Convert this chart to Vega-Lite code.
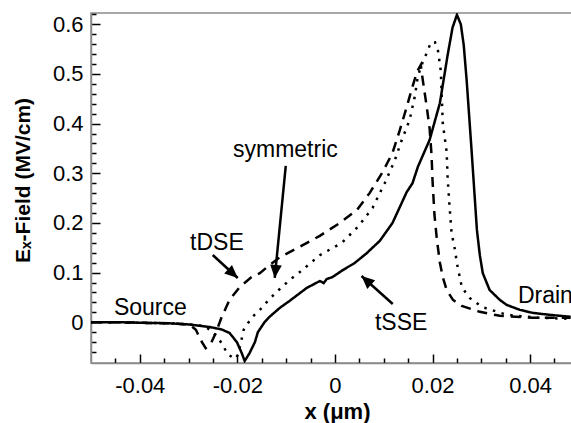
{
  "$schema": "https://vega.github.io/schema/vega-lite/v6.json",
  "width": 481,
  "height": 350,
  "autosize": "none",
  "padding": {"left": 91, "top": 13, "right": 0, "bottom": 60},
  "background": "white",
  "config": {
    "view": {"stroke": "#8a8a8a", "strokeWidth": 1.5},
    "font": "Liberation Sans",
    "axis": {
      "domainColor": "#8a8a8a",
      "domainWidth": 1.5,
      "ticks": true,
      "tickColor": "black",
      "tickWidth": 1.5,
      "labelColor": "black",
      "labelFont": "Liberation Sans",
      "labelFontSize": 22,
      "grid": false,
      "titleColor": "black",
      "titleFont": "Liberation Sans",
      "titleFontWeight": "bold"
    }
  },
  "datasets": {
    "curves": [
      {"series": "tSSE", "x": -0.05, "y": 0.0},
      {"series": "tSSE", "x": -0.044, "y": 0.0},
      {"series": "tSSE", "x": -0.038, "y": -0.0014},
      {"series": "tSSE", "x": -0.034, "y": -0.002},
      {"series": "tSSE", "x": -0.0298, "y": -0.0045},
      {"series": "tSSE", "x": -0.0257, "y": -0.0095},
      {"series": "tSSE", "x": -0.0232, "y": -0.0145},
      {"series": "tSSE", "x": -0.0216, "y": -0.0215},
      {"series": "tSSE", "x": -0.0201, "y": -0.04},
      {"series": "tSSE", "x": -0.0191, "y": -0.062},
      {"series": "tSSE", "x": -0.0185, "y": -0.078},
      {"series": "tSSE", "x": -0.0175, "y": -0.062},
      {"series": "tSSE", "x": -0.0164, "y": -0.04},
      {"series": "tSSE", "x": -0.0158, "y": -0.02},
      {"series": "tSSE", "x": -0.0144, "y": 0.0006},
      {"series": "tSSE", "x": -0.0134, "y": 0.011},
      {"series": "tSSE", "x": -0.0113, "y": 0.029},
      {"series": "tSSE", "x": -0.0093, "y": 0.043},
      {"series": "tSSE", "x": -0.0058, "y": 0.069},
      {"series": "tSSE", "x": -0.0031, "y": 0.083},
      {"series": "tSSE", "x": -0.0023, "y": 0.079},
      {"series": "tSSE", "x": -0.0017, "y": 0.087},
      {"series": "tSSE", "x": -0.0005, "y": 0.091},
      {"series": "tSSE", "x": 0.0016, "y": 0.105},
      {"series": "tSSE", "x": 0.004, "y": 0.119},
      {"series": "tSSE", "x": 0.0065, "y": 0.139},
      {"series": "tSSE", "x": 0.0092, "y": 0.164},
      {"series": "tSSE", "x": 0.0118, "y": 0.2},
      {"series": "tSSE", "x": 0.0147, "y": 0.262},
      {"series": "tSSE", "x": 0.0159, "y": 0.28},
      {"series": "tSSE", "x": 0.017, "y": 0.313},
      {"series": "tSSE", "x": 0.0194, "y": 0.367},
      {"series": "tSSE", "x": 0.0215, "y": 0.441},
      {"series": "tSSE", "x": 0.0231, "y": 0.538},
      {"series": "tSSE", "x": 0.0241, "y": 0.593},
      {"series": "tSSE", "x": 0.025, "y": 0.619},
      {"series": "tSSE", "x": 0.0258, "y": 0.6},
      {"series": "tSSE", "x": 0.0264, "y": 0.558},
      {"series": "tSSE", "x": 0.027, "y": 0.487},
      {"series": "tSSE", "x": 0.028, "y": 0.347},
      {"series": "tSSE", "x": 0.0291, "y": 0.186},
      {"series": "tSSE", "x": 0.0297, "y": 0.135},
      {"series": "tSSE", "x": 0.0303, "y": 0.099},
      {"series": "tSSE", "x": 0.0317, "y": 0.065},
      {"series": "tSSE", "x": 0.0338, "y": 0.045},
      {"series": "tSSE", "x": 0.0352, "y": 0.035},
      {"series": "tSSE", "x": 0.0379, "y": 0.025},
      {"series": "tSSE", "x": 0.0405, "y": 0.019},
      {"series": "tSSE", "x": 0.044, "y": 0.015},
      {"series": "tSSE", "x": 0.0483, "y": 0.011},

      {"series": "tDSE", "x": -0.05, "y": 0.0},
      {"series": "tDSE", "x": -0.044, "y": 0.0},
      {"series": "tDSE", "x": -0.038, "y": -0.0014},
      {"series": "tDSE", "x": -0.034, "y": -0.002},
      {"series": "tDSE", "x": -0.0298, "y": -0.0045},
      {"series": "tDSE", "x": -0.0285, "y": -0.015},
      {"series": "tDSE", "x": -0.0275, "y": -0.036},
      {"series": "tDSE", "x": -0.0265, "y": -0.052},
      {"series": "tDSE", "x": -0.0255, "y": -0.044},
      {"series": "tDSE", "x": -0.0244, "y": -0.021},
      {"series": "tDSE", "x": -0.0232, "y": 0.011},
      {"series": "tDSE", "x": -0.0216, "y": 0.045},
      {"series": "tDSE", "x": -0.0195, "y": 0.071},
      {"series": "tDSE", "x": -0.0171, "y": 0.091},
      {"series": "tDSE", "x": -0.0154, "y": 0.099},
      {"series": "tDSE", "x": -0.0134, "y": 0.115},
      {"series": "tDSE", "x": -0.0113, "y": 0.131},
      {"series": "tDSE", "x": -0.0072, "y": 0.152},
      {"series": "tDSE", "x": -0.0031, "y": 0.174},
      {"series": "tDSE", "x": 0.001, "y": 0.2},
      {"series": "tDSE", "x": 0.0045, "y": 0.226},
      {"series": "tDSE", "x": 0.0071, "y": 0.26},
      {"series": "tDSE", "x": 0.0098, "y": 0.303},
      {"series": "tDSE", "x": 0.0118, "y": 0.341},
      {"series": "tDSE", "x": 0.0133, "y": 0.387},
      {"series": "tDSE", "x": 0.0147, "y": 0.433},
      {"series": "tDSE", "x": 0.0157, "y": 0.468},
      {"series": "tDSE", "x": 0.0168, "y": 0.504},
      {"series": "tDSE", "x": 0.0176, "y": 0.518},
      {"series": "tDSE", "x": 0.018, "y": 0.488},
      {"series": "tDSE", "x": 0.0188, "y": 0.435},
      {"series": "tDSE", "x": 0.0194, "y": 0.391},
      {"series": "tDSE", "x": 0.0198, "y": 0.337},
      {"series": "tDSE", "x": 0.02, "y": 0.286},
      {"series": "tDSE", "x": 0.0204, "y": 0.216},
      {"series": "tDSE", "x": 0.0209, "y": 0.166},
      {"series": "tDSE", "x": 0.0215, "y": 0.121},
      {"series": "tDSE", "x": 0.0221, "y": 0.091},
      {"series": "tDSE", "x": 0.0229, "y": 0.065},
      {"series": "tDSE", "x": 0.0242, "y": 0.045},
      {"series": "tDSE", "x": 0.026, "y": 0.033},
      {"series": "tDSE", "x": 0.0297, "y": 0.021},
      {"series": "tDSE", "x": 0.0338, "y": 0.013},
      {"series": "tDSE", "x": 0.0405, "y": 0.009},
      {"series": "tDSE", "x": 0.0483, "y": 0.009},

      {"series": "symmetric", "x": -0.05, "y": 0.0},
      {"series": "symmetric", "x": -0.044, "y": 0.0},
      {"series": "symmetric", "x": -0.038, "y": -0.0014},
      {"series": "symmetric", "x": -0.034, "y": -0.002},
      {"series": "symmetric", "x": -0.0298, "y": -0.0045},
      {"series": "symmetric", "x": -0.0267, "y": -0.0075},
      {"series": "symmetric", "x": -0.025, "y": -0.02},
      {"series": "symmetric", "x": -0.0232, "y": -0.042},
      {"series": "symmetric", "x": -0.022, "y": -0.064},
      {"series": "symmetric", "x": -0.0205, "y": -0.074},
      {"series": "symmetric", "x": -0.0199, "y": -0.066},
      {"series": "symmetric", "x": -0.0193, "y": -0.042},
      {"series": "symmetric", "x": -0.0187, "y": -0.015},
      {"series": "symmetric", "x": -0.0171, "y": 0.009},
      {"series": "symmetric", "x": -0.0152, "y": 0.027},
      {"series": "symmetric", "x": -0.0134, "y": 0.047},
      {"series": "symmetric", "x": -0.0113, "y": 0.067},
      {"series": "symmetric", "x": -0.0093, "y": 0.085},
      {"series": "symmetric", "x": -0.0072, "y": 0.101},
      {"series": "symmetric", "x": -0.0031, "y": 0.135},
      {"series": "symmetric", "x": 0.0014, "y": 0.16},
      {"series": "symmetric", "x": 0.0047, "y": 0.192},
      {"series": "symmetric", "x": 0.0077, "y": 0.23},
      {"series": "symmetric", "x": 0.0102, "y": 0.28},
      {"series": "symmetric", "x": 0.0123, "y": 0.327},
      {"series": "symmetric", "x": 0.0137, "y": 0.367},
      {"series": "symmetric", "x": 0.0153, "y": 0.407},
      {"series": "symmetric", "x": 0.0164, "y": 0.456},
      {"series": "symmetric", "x": 0.017, "y": 0.496},
      {"series": "symmetric", "x": 0.018, "y": 0.524},
      {"series": "symmetric", "x": 0.0188, "y": 0.542},
      {"series": "symmetric", "x": 0.0197, "y": 0.564},
      {"series": "symmetric", "x": 0.0205, "y": 0.564},
      {"series": "symmetric", "x": 0.0211, "y": 0.548},
      {"series": "symmetric", "x": 0.0217, "y": 0.506},
      {"series": "symmetric", "x": 0.0219, "y": 0.454},
      {"series": "symmetric", "x": 0.0221, "y": 0.401},
      {"series": "symmetric", "x": 0.0229, "y": 0.343},
      {"series": "symmetric", "x": 0.0231, "y": 0.29},
      {"series": "symmetric", "x": 0.0235, "y": 0.232},
      {"series": "symmetric", "x": 0.0239, "y": 0.18},
      {"series": "symmetric", "x": 0.0246, "y": 0.146},
      {"series": "symmetric", "x": 0.025, "y": 0.119},
      {"series": "symmetric", "x": 0.026, "y": 0.071},
      {"series": "symmetric", "x": 0.0276, "y": 0.049},
      {"series": "symmetric", "x": 0.0301, "y": 0.031},
      {"series": "symmetric", "x": 0.0352, "y": 0.015},
      {"series": "symmetric", "x": 0.0419, "y": 0.009},
      {"series": "symmetric", "x": 0.0483, "y": 0.007}
    ],
    "notes": [
      {"label": "Source", "x": -0.0453, "y": 0.0147},
      {"label": "Drain", "x": 0.0375, "y": 0.038},
      {"label": "tDSE", "x": -0.0297, "y": 0.1456},
      {"label": "symmetric", "x": -0.0209, "y": 0.333},
      {"label": "tSSE", "x": 0.0082, "y": -0.0155}
    ],
    "arrows": [
      {"name": "tDSE", "x": -0.02505, "y": 0.1355, "x2": -0.01992, "y2": 0.0892},
      {"name": "symmetric", "x": -0.01008, "y": 0.3147, "x2": -0.01234, "y2": 0.0892},
      {"name": "tSSE", "x": 0.01185, "y": 0.0368, "x2": 0.00545, "y2": 0.0932}
    ]
  },
  "resolve": {"axis": {"x": "independent", "y": "independent"}},
  "layer": [
    {
      "description": "minor ticks only",
      "data": {"name": "curves"},
      "mark": {"type": "line", "opacity": 0, "clip": true},
      "encoding": {
        "x": {
          "field": "x", "type": "quantitative",
          "scale": {"domain": [-0.05, 0.04859], "nice": false, "zero": false},
          "axis": {
            "orient": "bottom",
            "values": [-0.045, -0.035, -0.03, -0.025, -0.015, -0.01, -0.005, 0.005, 0.01, 0.015, 0.025, 0.03, 0.035, 0.045],
            "tickSize": -5, "labels": false, "domain": false, "title": null
          }
        },
        "y": {
          "field": "y", "type": "quantitative",
          "scale": {"domain": [-0.082, 0.6227], "nice": false, "zero": false},
          "axis": {
            "orient": "left",
            "values": [-0.06, -0.04, -0.02, 0.02, 0.04, 0.06, 0.08, 0.12, 0.14, 0.16, 0.18, 0.22, 0.24, 0.26, 0.28, 0.32, 0.34, 0.36, 0.38, 0.42, 0.44, 0.46, 0.48, 0.52, 0.54, 0.56, 0.58, 0.62],
            "tickSize": -5, "labels": false, "domain": false, "title": null
          }
        },
        "detail": {"field": "series"}
      }
    },
    {
      "data": {"name": "curves"},
      "mark": {"type": "line", "color": "black", "strokeWidth": 2.5, "strokeCap": "butt", "clip": true},
      "encoding": {
        "x": {
          "field": "x", "type": "quantitative",
          "axis": {
            "orient": "bottom",
            "values": [-0.04, -0.02, 0, 0.02, 0.04],
            "tickSize": -9,
            "labelExpr": "'' + datum.value",
            "labelOverlap": false,
            "labelFlush": false,
            "labelPadding": 21,
            "title": "x (μm)",
            "titleFontSize": 22,
            "titleX": 246,
            "titleY": 38,
            "titleBaseline": "top",
            "titleAlign": "center"
          }
        },
        "y": {
          "field": "y", "type": "quantitative",
          "axis": {
            "orient": "left",
            "values": [0, 0.1, 0.2, 0.3, 0.4, 0.5, 0.6],
            "tickSize": -9,
            "labelExpr": "'' + datum.value",
            "labelOverlap": false,
            "labelFlush": false,
            "labelPadding": 17,
            "title": "Eₓ-Field (MV/cm)",
            "titleFontSize": 21,
            "titleAngle": 270,
            "titleX": -58,
            "titleY": 167,
            "titleBaseline": "bottom",
            "titleAlign": "center"
          }
        },
        "strokeDash": {
          "field": "series", "type": "nominal",
          "scale": {"domain": ["tSSE", "tDSE", "symmetric"], "range": [[1, 0], [10, 7], [2.5, 6.5]]},
          "legend": null
        }
      }
    },
    {
      "data": {"name": "arrows"},
      "mark": {"type": "rule", "color": "black", "strokeWidth": 2.5},
      "encoding": {
        "x": {"field": "x", "type": "quantitative", "axis": null},
        "y": {"field": "y", "type": "quantitative", "axis": null},
        "x2": {"field": "x2"},
        "y2": {"field": "y2"}
      }
    },
    {
      "data": {"name": "arrows"},
      "transform": [{"filter": "datum.name === 'tDSE'"}],
      "mark": {"type": "point", "shape": "M0,0L-0.45,1L0.45,1Z", "filled": true, "color": "black", "opacity": 1, "size": 676, "angle": 132},
      "encoding": {
        "x": {"field": "x2", "type": "quantitative", "axis": null},
        "y": {"field": "y2", "type": "quantitative", "axis": null}
      }
    },
    {
      "data": {"name": "arrows"},
      "transform": [{"filter": "datum.name === 'symmetric'"}],
      "mark": {"type": "point", "shape": "M0,0L-0.45,1L0.45,1Z", "filled": true, "color": "black", "opacity": 1, "size": 676, "angle": 185.6},
      "encoding": {
        "x": {"field": "x2", "type": "quantitative", "axis": null},
        "y": {"field": "y2", "type": "quantitative", "axis": null}
      }
    },
    {
      "data": {"name": "arrows"},
      "transform": [{"filter": "datum.name === 'tSSE'"}],
      "mark": {"type": "point", "shape": "M0,0L-0.45,1L0.45,1Z", "filled": true, "color": "black", "opacity": 1, "size": 676, "angle": 312},
      "encoding": {
        "x": {"field": "x2", "type": "quantitative", "axis": null},
        "y": {"field": "y2", "type": "quantitative", "axis": null}
      }
    },
    {
      "data": {"name": "notes"},
      "mark": {"type": "text", "align": "left", "baseline": "alphabetic", "fontSize": 23, "font": "Liberation Sans", "color": "black"},
      "encoding": {
        "x": {"field": "x", "type": "quantitative", "axis": null},
        "y": {"field": "y", "type": "quantitative", "axis": null},
        "text": {"field": "label"}
      }
    }
  ]
}
